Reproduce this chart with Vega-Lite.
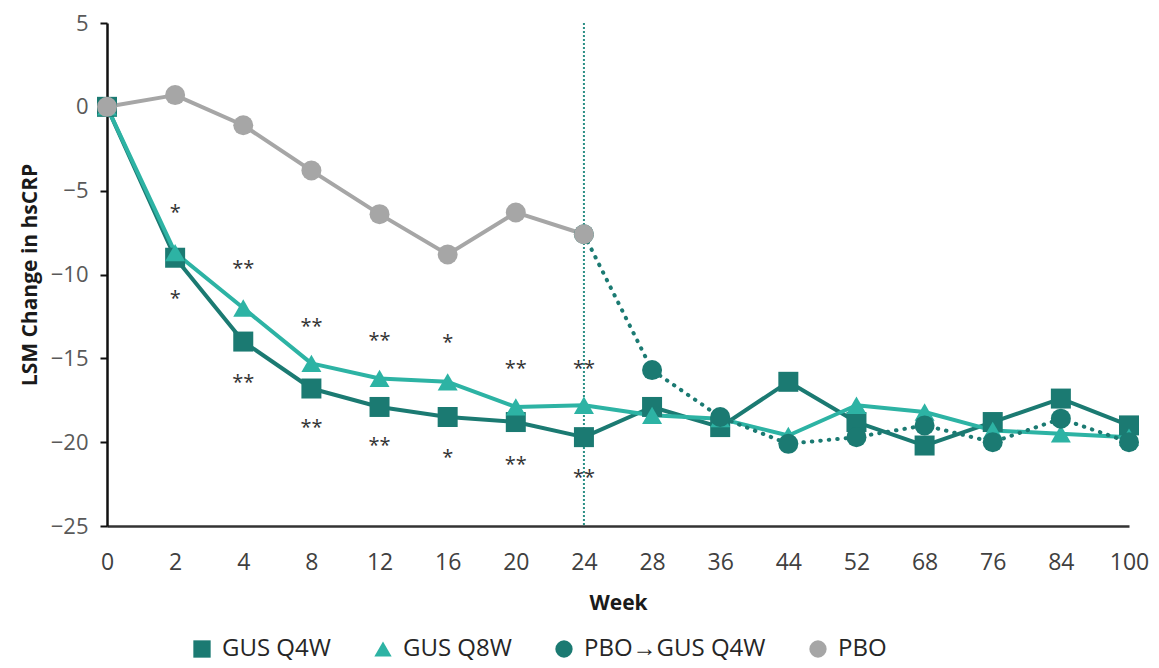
{
  "$schema": "https://vega.github.io/schema/vega-lite/v6.json",
  "width": 1022,
  "height": 503,
  "autosize": "none",
  "padding": {"left": 107, "top": 23, "right": 30, "bottom": 142},
  "background": "white",
  "config": {
    "view": {"stroke": null},
    "font": "Open Sans"
  },
  "datasets": {
    "series": [
      {"week": "0", "group": "GUS Q4W", "change": 0},
      {"week": "2", "group": "GUS Q4W", "change": -9.0},
      {"week": "4", "group": "GUS Q4W", "change": -14.0},
      {"week": "8", "group": "GUS Q4W", "change": -16.8},
      {"week": "12", "group": "GUS Q4W", "change": -17.9},
      {"week": "16", "group": "GUS Q4W", "change": -18.5},
      {"week": "20", "group": "GUS Q4W", "change": -18.8},
      {"week": "24", "group": "GUS Q4W", "change": -19.7},
      {"week": "28", "group": "GUS Q4W", "change": -17.9},
      {"week": "36", "group": "GUS Q4W", "change": -19.1},
      {"week": "44", "group": "GUS Q4W", "change": -16.4},
      {"week": "52", "group": "GUS Q4W", "change": -18.8},
      {"week": "68", "group": "GUS Q4W", "change": -20.2},
      {"week": "76", "group": "GUS Q4W", "change": -18.8},
      {"week": "84", "group": "GUS Q4W", "change": -17.4},
      {"week": "100", "group": "GUS Q4W", "change": -19.0},
      {"week": "0", "group": "GUS Q8W", "change": 0},
      {"week": "2", "group": "GUS Q8W", "change": -8.7},
      {"week": "4", "group": "GUS Q8W", "change": -12.0},
      {"week": "8", "group": "GUS Q8W", "change": -15.3},
      {"week": "12", "group": "GUS Q8W", "change": -16.2},
      {"week": "16", "group": "GUS Q8W", "change": -16.4},
      {"week": "20", "group": "GUS Q8W", "change": -17.9},
      {"week": "24", "group": "GUS Q8W", "change": -17.8},
      {"week": "28", "group": "GUS Q8W", "change": -18.4},
      {"week": "36", "group": "GUS Q8W", "change": -18.6},
      {"week": "44", "group": "GUS Q8W", "change": -19.6},
      {"week": "52", "group": "GUS Q8W", "change": -17.8},
      {"week": "68", "group": "GUS Q8W", "change": -18.2},
      {"week": "76", "group": "GUS Q8W", "change": -19.3},
      {"week": "84", "group": "GUS Q8W", "change": -19.5},
      {"week": "100", "group": "GUS Q8W", "change": -19.7},
      {"week": "24", "group": "PBO→GUS Q4W", "change": -7.6},
      {"week": "28", "group": "PBO→GUS Q4W", "change": -15.7},
      {"week": "36", "group": "PBO→GUS Q4W", "change": -18.5},
      {"week": "44", "group": "PBO→GUS Q4W", "change": -20.1},
      {"week": "52", "group": "PBO→GUS Q4W", "change": -19.7},
      {"week": "68", "group": "PBO→GUS Q4W", "change": -19.0},
      {"week": "76", "group": "PBO→GUS Q4W", "change": -20.0},
      {"week": "84", "group": "PBO→GUS Q4W", "change": -18.6},
      {"week": "100", "group": "PBO→GUS Q4W", "change": -20.0},
      {"week": "0", "group": "PBO", "change": 0},
      {"week": "2", "group": "PBO", "change": 0.7},
      {"week": "4", "group": "PBO", "change": -1.1},
      {"week": "8", "group": "PBO", "change": -3.8},
      {"week": "12", "group": "PBO", "change": -6.4},
      {"week": "16", "group": "PBO", "change": -8.8},
      {"week": "20", "group": "PBO", "change": -6.3},
      {"week": "24", "group": "PBO", "change": -7.6}
    ],
    "significance": [
      {"week": "2", "pos": -6.0, "mark": "*"},
      {"week": "4", "pos": -9.3, "mark": "**"},
      {"week": "8", "pos": -12.8, "mark": "**"},
      {"week": "12", "pos": -13.6, "mark": "**"},
      {"week": "16", "pos": -13.7, "mark": "*"},
      {"week": "20", "pos": -15.3, "mark": "**"},
      {"week": "24", "pos": -15.3, "mark": "**"},
      {"week": "2", "pos": -11.1, "mark": "*"},
      {"week": "4", "pos": -16.1, "mark": "**"},
      {"week": "8", "pos": -18.8, "mark": "**"},
      {"week": "12", "pos": -19.9, "mark": "**"},
      {"week": "16", "pos": -20.6, "mark": "*"},
      {"week": "20", "pos": -21.0, "mark": "**"},
      {"week": "24", "pos": -21.8, "mark": "**"}
    ],
    "switch": [{"week": "24"}]
  },
  "encoding": {
    "x": {
      "field": "week",
      "type": "ordinal",
      "sort": ["0", "2", "4", "8", "12", "16", "20", "24", "28", "36", "44", "52", "68", "76", "84", "100"],
      "scale": {"type": "point", "padding": 0},
      "axis": {
        "title": "Week",
        "titleFont": "Open Sans",
        "titleFontSize": 21,
        "titleFontWeight": "bold",
        "titleColor": "#1a1a1a",
        "titlePadding": 18,
        "labelFont": "Open Sans",
        "labelFontSize": 23,
        "labelColor": "#404040",
        "labelAngle": 0,
        "labelPadding": 25,
        "ticks": false,
        "domainColor": "#333333",
        "domainWidth": 2.5,
        "grid": false
      }
    }
  },
  "layer": [
    {
      "data": {"name": "switch"},
      "mark": {"type": "rule", "color": "#2a8f85", "strokeWidth": 2, "strokeDash": [2, 2]},
      "encoding": {}
    },
    {
      "data": {"name": "series"},
      "transform": [{"filter": "datum.group !== 'PBO→GUS Q4W'"}],
      "mark": {"type": "line", "strokeWidth": 4, "strokeCap": "round", "strokeJoin": "round"},
      "encoding": {
        "y": {
          "field": "change",
          "type": "quantitative",
          "scale": {"domain": [-25, 5], "nice": false, "zero": false},
          "axis": {
            "values": [-25, -20, -15, -10, -5, 0, 5],
            "title": "LSM Change in hsCRP",
            "titleFont": "Open Sans",
            "titleFontSize": 21,
            "titleFontWeight": "bold",
            "titleColor": "#1a1a1a",
            "titlePadding": 10,
            "labelFont": "Open Sans",
            "labelFontSize": 22,
            "labelColor": "#595959",
            "labelPadding": 12,
            "tickSize": 7,
            "tickWidth": 2,
            "tickColor": "#111111",
            "domainColor": "#111111",
            "domainWidth": 2.5,
            "grid": false
          }
        },
        "color": {
          "field": "group",
          "type": "nominal",
          "scale": {
            "domain": ["GUS Q4W", "GUS Q8W", "PBO→GUS Q4W", "PBO"],
            "range": ["#1b7a72", "#2db3a4", "#1b7a72", "#a6a6a6"]
          },
          "legend": {
            "orient": "none",
            "legendX": 83,
            "legendY": 614,
            "direction": "horizontal",
            "title": null,
            "padding": 0,
            "symbolSize": 300,
            "symbolStrokeWidth": 0,
            "labelFont": "Open Sans",
            "labelFontSize": 24,
            "labelLimit": 0,
            "labelColor": "#262626",
            "labelOffset": 8,
            "columnPadding": 40
          }
        }
      }
    },
    {
      "data": {"name": "series"},
      "transform": [{"filter": "datum.group === 'PBO→GUS Q4W'"}],
      "mark": {"type": "line", "strokeWidth": 4, "strokeCap": "round", "strokeDash": [0.5, 8]},
      "encoding": {
        "y": {"field": "change", "type": "quantitative"},
        "color": {"field": "group", "type": "nominal"}
      }
    },
    {
      "data": {"name": "series"},
      "mark": {"type": "point", "filled": true, "opacity": 1, "size": 400},
      "encoding": {
        "y": {"field": "change", "type": "quantitative"},
        "color": {"field": "group", "type": "nominal"},
        "shape": {
          "field": "group",
          "type": "nominal",
          "scale": {
            "domain": ["GUS Q4W", "GUS Q8W", "PBO→GUS Q4W", "PBO"],
            "range": ["square", "triangle-up", "circle", "circle"]
          }
        }
      }
    },
    {
      "data": {"name": "significance"},
      "mark": {"type": "text", "font": "Open Sans", "fontSize": 20, "color": "#333333", "baseline": "middle", "dy": 6},
      "encoding": {
        "y": {"field": "pos", "type": "quantitative"},
        "text": {"field": "mark"}
      }
    }
  ]
}
